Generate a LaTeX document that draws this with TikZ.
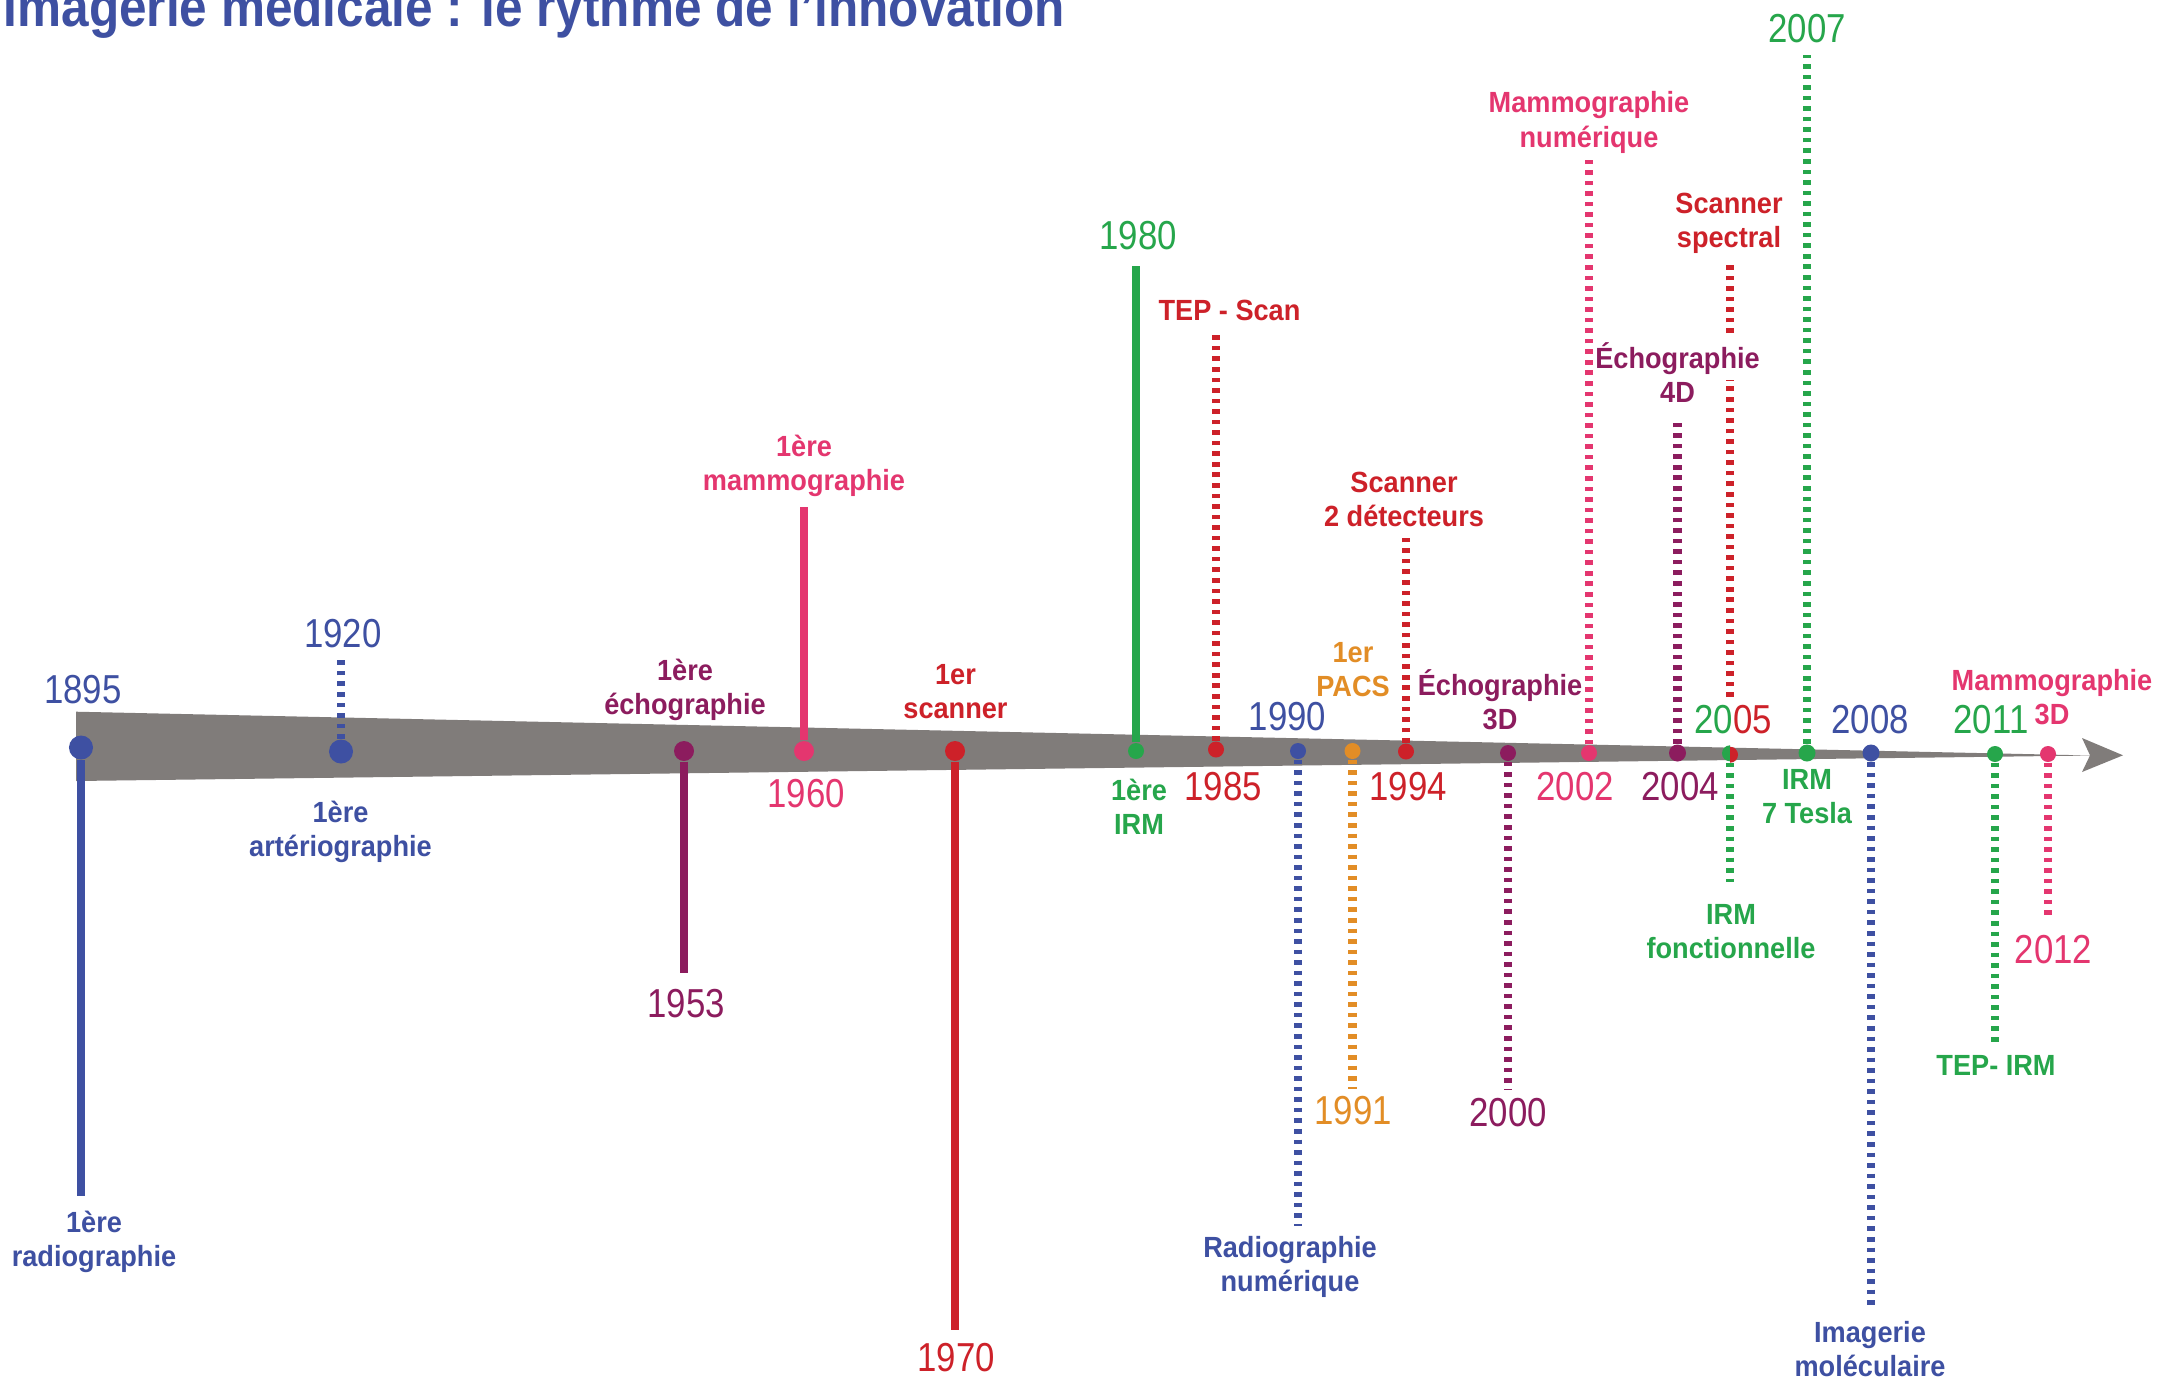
\documentclass[tikz,border=0pt]{standalone}
\usepackage{fontspec}
\newfontfamily\yearfont[FakeStretch=0.86]{Liberation Sans}
\newfontfamily\lblfont[FakeStretch=0.93]{Liberation Sans}
\newfontfamily\ttlfont[FakeStretch=0.88]{Liberation Sans}
\definecolor{cB}{RGB}{62,80,162}
\definecolor{cP}{RGB}{140,28,94}
\definecolor{cK}{RGB}{228,54,111}
\definecolor{cR}{RGB}{205,33,41}
\definecolor{cG}{RGB}{38,166,75}
\definecolor{cO}{RGB}{226,141,38}
\definecolor{bandc}{RGB}{128,124,122}
\newcommand\twol[2]{\vtop{\halign{\hfil##\hfil\cr#1\cr#2\cr}}}
\begin{document}
\begin{tikzpicture}[x=0.01cm,y=-0.01cm,
  yr/.style={font=\yearfont\fontsize{11.5}{13}\selectfont, inner sep=0pt, anchor=base},
  lbl/.style={font=\lblfont\bfseries\fontsize{8.3}{9.8}\selectfont, inner sep=0pt, anchor=base},
  ttl/.style={font=\ttlfont\bfseries\fontsize{16}{18}\selectfont, inner sep=0pt, text=cB},
  evdot/.style={circle, inner sep=0pt, minimum size=#1},
  sline/.style={line width=2.4pt},
  dline/.style={line width=2.3pt, dash pattern=on 1.3pt off 1.7pt}]
\useasboundingbox (0,0) rectangle (2161,1379);
\fill[white] (0,0) rectangle (2161,1379);

% title
\node[ttl, anchor=base west] (title) at (3,27) {Imagerie médicale : le rythme de l’innovation};

% band and arrow
\fill[bandc] (76,711.7) -- (2092,755.5) -- (76,781) -- cycle;
\fill[bandc] (2082,738) -- (2123,755.3) -- (2082,772) -- (2090,755.3) -- cycle;

% dots (as nodes)
\node[evdot=0.24cm, fill=cB] (d1895) at (81,747.5) {};
\node[evdot=0.24cm, fill=cB] (d1920) at (341,751.5) {};
\node[evdot=0.20cm, fill=cP] (d1953) at (684,751) {};
\node[evdot=0.20cm, fill=cK] (d1960) at (804,751) {};
\node[evdot=0.20cm, fill=cR] (d1970) at (955,751) {};
\node[evdot=0.16cm, fill=cG] (d1980) at (1136,751) {};
\node[evdot=0.16cm, fill=cR] (d1985) at (1216,749.5) {};
\node[evdot=0.16cm, fill=cB] (d1990) at (1298,751) {};
\node[evdot=0.16cm, fill=cO] (d1991) at (1352.5,751) {};
\node[evdot=0.16cm, fill=cR] (d1994) at (1406,751.5) {};
\node[evdot=0.16cm, fill=cP] (d2000) at (1508,753) {};
\node[evdot=0.16cm, fill=cK] (d2002) at (1589,753) {};
\node[evdot=0.17cm, fill=cP] (d2004) at (1677.5,753) {};
\node[evdot=0.16cm] (d2005) at (1730,754) {};
\node[evdot=0.17cm, fill=cG] (d2007) at (1807,753) {};
\node[evdot=0.17cm, fill=cB] (d2008) at (1871,753) {};
\node[evdot=0.16cm, fill=cG] (d2011) at (1995,754) {};
\node[evdot=0.16cm, fill=cK] (d2012) at (2048,754) {};
\fill[cG] (d2005.north) arc[start angle=90,end angle=270,radius=0.08cm] -- cycle;
\fill[cR] (d2005.south) arc[start angle=270,end angle=450,radius=0.08cm] -- cycle;

% years
\node[yr,text=cB] (y1895) at (83,703) {1895};
\node[yr,text=cB] (y1920) at (343,647) {1920};
\node[yr,text=cP] (y1953) at (686,1017) {1953};
\node[yr,text=cK] (y1960) at (806,807) {1960};
\node[yr,text=cR] (y1970) at (956,1371) {1970};
\node[yr,text=cG] (y1980) at (1138,249) {1980};
\node[yr,text=cR] (y1985) at (1223,800) {1985};
\node[yr,text=cB] (y1990) at (1287.5,730) {1990};
\node[yr,text=cO] (y1991) at (1353,1124) {1991};
\node[yr,text=cR] (y1994) at (1408,800) {1994};
\node[yr,text=cP] (y2000) at (1508,1126) {2000};
\node[yr,text=cK] (y2002) at (1575,800) {2002};
\node[yr,text=cP] (y2004) at (1680,800) {2004};
\node[yr] (y2005) at (1733,733) {\textcolor{cG}{20}\textcolor{cR}{05}};
\node[yr,text=cG] (y2007) at (1807,43) {2007};
\node[yr,text=cB] (y2008) at (1870,733) {2008};
\node[yr,text=cG] (y2011) at (1991,733) {2011};
\node[yr,text=cK] (y2012) at (2053.5,963) {2012};

% line end coordinates
\coordinate (e1895) at (81,1196);
\coordinate (e1920) at (341,657);
\coordinate (e1953) at (684,973);
\coordinate (e1960) at (804,507);
\coordinate (e1970) at (955,1330);
\coordinate (e1980) at (1136,266);
\coordinate (e1985) at (1216,331);
\coordinate (e1990) at (1298,1226);
\coordinate (e1991) at (1352.5,1089);
\coordinate (e1994) at (1406,537);
\coordinate (e2000) at (1508,1089);
\coordinate (e2002) at (1589,160);
\coordinate (e2004) at (1677.5,418);
\coordinate (r2005s) at (1730,697);
\coordinate (r2005a) at (1730,380);
\coordinate (r2005b) at (1730,333);
\coordinate (r2005c) at (1730,260);
\coordinate (g2005) at (1730,882);
\coordinate (e2007) at (1807,55);
\coordinate (e2008) at (1871,1309);
\coordinate (e2011) at (1995,1047);
\coordinate (e2012) at (2048,920);

% connectors
\draw[sline,cB] (d1895) -- (e1895);
\draw[dline,cB] (d1920) -- (e1920);
\draw[sline,cP] (d1953) -- (e1953);
\draw[sline,cK] (d1960) -- (e1960);
\draw[sline,cR] (d1970) -- (e1970);
\draw[sline,cG] (d1980) -- (e1980);
\draw[dline,cR] (d1985) -- (e1985);
\draw[dline,cB] (d1990) -- (e1990);
\draw[dline,cO] (d1991) -- (e1991);
\draw[dline,cR] (d1994) -- (e1994);
\draw[dline,cP] (d2000) -- (e2000);
\draw[dline,cK] (d2002) -- (e2002);
\draw[dline,cP] (d2004) -- (e2004);
\draw[dline,cR] (r2005s) -- (r2005a);
\draw[dline,cR] (r2005b) -- (r2005c);
\draw[dline,cG] (d2005) -- (g2005);
\draw[dline,cG] (d2007) -- (e2007);
\draw[dline,cB] (d2008) -- (e2008);
\draw[dline,cG] (d2011) -- (e2011);
\draw[dline,cK] (d2012) -- (e2012);

% labels
\node[lbl,text=cB] (l1895) at (94,1232) {\twol{1ère}{radiographie}};
\node[lbl,text=cB] (l1920) at (340.5,822) {\twol{1ère}{artériographie}};
\node[lbl,text=cP] (l1953) at (685,680) {\twol{1ère}{échographie}};
\node[lbl,text=cK] (l1960) at (804,456) {\twol{1ère}{mammographie}};
\node[lbl,text=cR] (l1970) at (955.5,684) {\twol{1er}{scanner}};
\node[lbl,text=cG] (l1980) at (1139,800) {\twol{1ère}{IRM}};
\node[lbl,text=cR] (l1985) at (1229.5,320) {TEP - Scan};
\node[lbl,text=cB] (l1990) at (1290,1257) {\twol{Radiographie}{numérique}};
\node[lbl,text=cO] (l1991) at (1353,662) {\twol{1er}{PACS}};
\node[lbl,text=cR] (l1994) at (1404,492) {\twol{Scanner}{2 détecteurs}};
\node[lbl,text=cP] (l2000) at (1500,695) {\twol{Échographie}{3D}};
\node[lbl,text=cK] (l2002) at (1589,113) {\twol{Mammographie}{numérique}};
\node[lbl,text=cP] (l2004) at (1677.5,368) {\twol{Échographie}{4D}};
\node[lbl,text=cR] (l2005a) at (1729,213) {\twol{Scanner}{spectral}};
\node[lbl,text=cG] (l2005b) at (1731,924) {\twol{IRM}{fonctionnelle}};
\node[lbl,text=cG] (l2007) at (1807,789) {\twol{IRM}{7 Tesla}};
\node[lbl,text=cB] (l2008) at (1870,1342) {\twol{Imagerie}{moléculaire}};
\node[lbl,text=cG] (l2011) at (1996,1075) {TEP- IRM};
\node[lbl,text=cK] (l2012) at (2052,690) {\twol{Mammographie}{3D}};
\end{tikzpicture}
\end{document}
